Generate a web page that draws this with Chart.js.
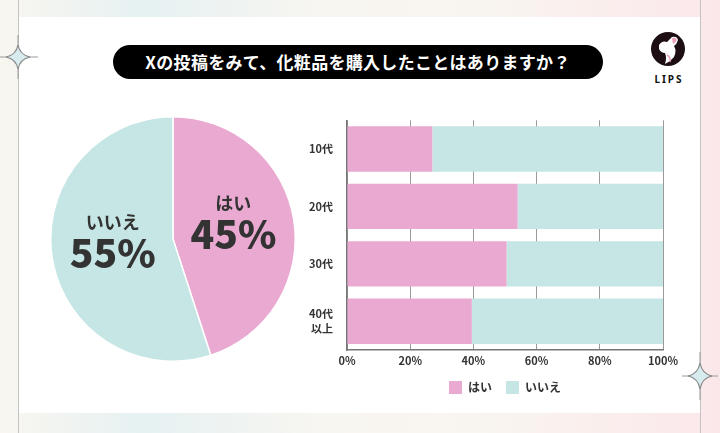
<!DOCTYPE html>
<html lang="ja">
<head>
  <meta charset="UTF-8" />
  <title>Xの投稿をみて、化粧品を購入したことはありますか？</title>
  <script src="https://cdn.jsdelivr.net/npm/chart.js@4"></script>
  <style>
    html, body { margin: 0; padding: 0; }
    body {
      width: 720px;
      height: 433px;
      position: relative;
      overflow: hidden;
      font-family: 'Noto Sans CJK JP', 'Noto Sans', sans-serif;
      background: linear-gradient(to right, #f9f6f0 0%, #e6f1f2 20%, #f8f6f1 45%, #f9f4ef 70%, #fbe7ea 100%);
    }
    .card {
      position: absolute;
      left: 19px; top: 17px;
      width: 681px; height: 396px;
      background: #fff;
    }
    .vline {
      position: absolute;
      top: 0; width: 1px; height: 433px;
      background: #c4c4c4;
    }
    .title {
      position: absolute;
      left: 113px; top: 45px;
      width: 490px; height: 34px;
      border-radius: 17px;
      background: #000;
      color: #fff;
      font-size: 17px;
      font-weight: 700;
      line-height: 34px;
      text-align: center;
      letter-spacing: 0.3px;
    }
    .logo { position: absolute; left: 650px; top: 31px; width: 36px; height: 36px; }
    .logo-text {
      position: absolute; left: 648px; top: 72px; width: 42px;
      text-align: center; font-family: 'Noto Sans', sans-serif;
      font-size: 10px; font-weight: 700; letter-spacing: 2px; color: #111;
    }
    .sparkle { position: absolute; }
    #pieBox { position: absolute; left: 50px; top: 116px; width: 246px; height: 246px; }
    #barBox { position: absolute; left: 290px; top: 100px; width: 420px; height: 304px; }
  </style>
</head>
<body>
  <div class="card"></div>
  <div class="vline" style="left:18px"></div>
  <div class="vline" style="left:700px"></div>

  <svg class="sparkle" style="left:0px;top:35px" width="40" height="44" viewBox="0 0 40 44">
    <path d="M18 0 V44 M0 22 H38" stroke="#9a9a9a" stroke-width="1" />
    <path d="M18 10 Q20 20 30 22 Q20 24 18 34 Q16 24 6 22 Q16 20 18 10 Z" fill="#d8ebef" stroke="#8a8a8a" stroke-width="1.2" />
  </svg>
  <svg class="sparkle" style="left:682px;top:352px" width="38" height="48" viewBox="0 0 38 48">
    <path d="M18 0 V48 M0 24 H36" stroke="#9a9a9a" stroke-width="1" />
    <path d="M18 11 Q20 22 30 24 Q20 26 18 37 Q16 26 6 24 Q16 22 18 11 Z" fill="#d8ebef" stroke="#8a8a8a" stroke-width="1.2" />
  </svg>

  <div class="title">Xの投稿をみて、化粧品を購入したことはありますか？</div>

  <svg class="logo" viewBox="0 0 36 36">
    <circle cx="18" cy="18" r="17" fill="#1c0e12" />
    <path d="M9 14 Q12 9 17 11 L22 6 Q27 5 28 9 Q27 13 24 15 Q27 20 24 26 Q20 31 15 33 Q17 27 15 22 Q11 22 9 18 Z" fill="#fff" />
    <path d="M22 7 Q26 6 27 9 Q25 12 23 13 Z" fill="#eaa0b8" />
    <path d="M17 24 Q21 26 20 31" stroke="#e8a5b8" stroke-width="1.5" fill="none" />
  </svg>
  <div class="logo-text">LIPS</div>

  <div id="pieBox"><canvas id="pieChart"></canvas></div>
  <div id="barBox"><canvas id="barChart"></canvas></div>

  <script>
    const answers = ["はい", "いいえ"];
    const totalShare = [45, 55];
    const answerColors = ["#eaa9d1", "#c5e6e4"];

    const ageGroups = [["10代"], ["20代"], ["30代"], ["40代", "以上"]];
    const yesByAge = [27, 54, 50.5, 39.5];
    const noByAge = [73, 46, 49.5, 60.5];
    const percentTicks = [0, 20, 40, 60, 80, 100];

    const textColor = "#333";
    const jpFont = "'Noto Sans CJK JP', 'Noto Sans', sans-serif";

    // labels drawn in the middle of each slice
    const sliceLabels = {
      id: "sliceLabels",
      afterDatasetsDraw(chart) {
        const { ctx } = chart;
        const arcs = chart.getDatasetMeta(0).data;
        ctx.save();
        ctx.fillStyle = textColor;
        ctx.textAlign = "center";
        ctx.textBaseline = "middle";
        arcs.forEach((arc, i) => {
          const p = arc.tooltipPosition();
          ctx.font = "bold 18px " + jpFont;
          ctx.fillText(answers[i], p.x, p.y - 26);
          ctx.font = "900 39px " + jpFont;
          ctx.fillText(totalShare[i] + "%", p.x, p.y + 5);
        });
        ctx.restore();
      }
    };

    new Chart(document.getElementById("pieChart"), {
      type: "pie",
      data: {
        labels: answers,
        datasets: [{
          data: totalShare,
          backgroundColor: answerColors,
          borderColor: "#fff",
          borderWidth: 1.5
        }]
      },
      options: {
        responsive: true,
        maintainAspectRatio: false,
        animation: false,
        layout: { padding: 0 },
        plugins: { legend: { display: false }, tooltip: { enabled: false } }
      },
      plugins: [sliceLabels]
    });

    new Chart(document.getElementById("barChart"), {
      type: "bar",
      data: {
        labels: ageGroups,
        datasets: [
          { label: answers[0], data: yesByAge, backgroundColor: answerColors[0] },
          { label: answers[1], data: noByAge, backgroundColor: answerColors[1] }
        ]
      },
      options: {
        indexAxis: "y",
        responsive: true,
        maintainAspectRatio: false,
        animation: false,
        layout: { padding: { top: 12, right: 47 } },
        datasets: { bar: { barPercentage: 1, categoryPercentage: 0.79 } },
        scales: {
          x: {
            stacked: true,
            min: 0,
            max: 100,
            afterBuildTicks: (scale) => { scale.ticks = percentTicks.map(v => ({ value: v })); },
            afterFit: (scale) => { scale.height = 17; },
            grid: { color: "#9a9a9a", lineWidth: 1, drawTicks: false },
            border: { color: "#777", width: 1.5 },
            ticks: {
              padding: 4,
              color: textColor,
              font: { family: jpFont, size: 11, weight: "bold" },
              callback: v => v + "%"
            }
          },
          y: {
            stacked: true,
            afterFit: (scale) => { scale.width = 57; },
            grid: { display: false },
            border: { color: "#777", width: 1.5 },
            ticks: {
              padding: 6,
              color: textColor,
              font: { family: jpFont, size: 11, weight: "bold", lineHeight: 1.3 }
            }
          }
        },
        plugins: {
          tooltip: { enabled: false },
          legend: {
            position: "bottom",
            fullSize: false,
            labels: {
              boxWidth: 13,
              boxHeight: 13,
              padding: 14,
              color: textColor,
              font: { family: jpFont, size: 12, weight: "bold" }
            }
          }
        }
      }
    });
  </script>
</body>
</html>
